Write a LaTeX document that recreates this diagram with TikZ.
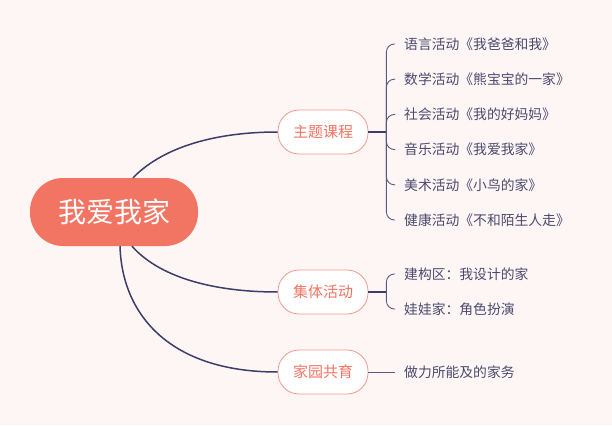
\documentclass[tikz,border=0pt]{standalone}
\usepackage{fontspec}
\usepackage{xcolor}
\newfontfamily\cjk{Noto Sans CJK SC}
\definecolor{bgpink}{HTML}{FEF6F5}
\definecolor{coral}{HTML}{F27463}
\definecolor{coralline}{HTML}{F5998B}
\definecolor{navy}{HTML}{3D3D6B}
\definecolor{leafgray}{HTML}{4A4A6E}

\begin{document}
\begin{tikzpicture}[x=1pt, y=1pt,
    root/.style={fill=coral, text=white, rounded corners=33pt, minimum width=168pt, minimum height=68pt, font=\cjk\fontsize{28}{32}\selectfont},
    topic/.style={draw=coralline, fill=white, text=coral, rounded corners=21pt, minimum width=90pt, minimum height=44pt, line width=0.8pt, font=\cjk\fontsize{15}{18}\selectfont},
    leaf/.style={anchor=west, inner xsep=9pt, text=leafgray, font=\cjk\fontsize{13.8}{16}\selectfont},
    branch/.style={navy, line width=1.5pt},
    brace/.style={navy!85, line width=0.9pt, rounded corners=8pt}]
\fill[bgpink] (0,0) rectangle (612,-425);
\useasboundingbox (0,0) rectangle (612,-425);

% centre and the three topics
\node[root] (home) at (114,-212) {我爱我家};
\node[topic] (course) at (323,-132) {主题课程};
\node[topic] (group) at (323,-292) {集体活动};
\node[topic] (family) at (323,-372) {家园共育};

\draw[branch] ([xshift=19pt]home.north) .. controls (165,-145) and (220,-132) .. (course.west);
\draw[branch] ([xshift=18pt]home.south) .. controls (162,-280) and (220,-292) .. (group.west);
\draw[branch] ([xshift=6pt]home.south) .. controls (122,-315) and (170,-372) .. (family.west);

% 主题课程
\draw[branch] (course.east) -- ++(18,0) coordinate (jcourse);
\foreach \t [count=\i] in {语言活动《我爸爸和我》, 数学活动《熊宝宝的一家》, 社会活动《我的好妈妈》, 音乐活动《我爱我家》, 美术活动《小鸟的家》, 健康活动《不和陌生人走》}
{
    \node[leaf] (c\i) at (395,{-44-35.2*(\i-1)}) {\t};
    \draw[brace] (jcourse) |- (c\i.west);
}

% 集体活动
\draw[branch] (group.east) -- ++(18,0) coordinate (jgroup);
\node[leaf] (g1) at (395,-274) {建构区：我设计的家};
\node[leaf] (g2) at (395,-309) {娃娃家：角色扮演};
\draw[brace] (jgroup) |- (g1.west);
\draw[brace] (jgroup) |- (g2.west);

% 家园共育
\node[leaf] (f1) at (395,-372) {做力所能及的家务};
\draw[brace] (family.east) -- (f1.west);
\end{tikzpicture}
\end{document}
